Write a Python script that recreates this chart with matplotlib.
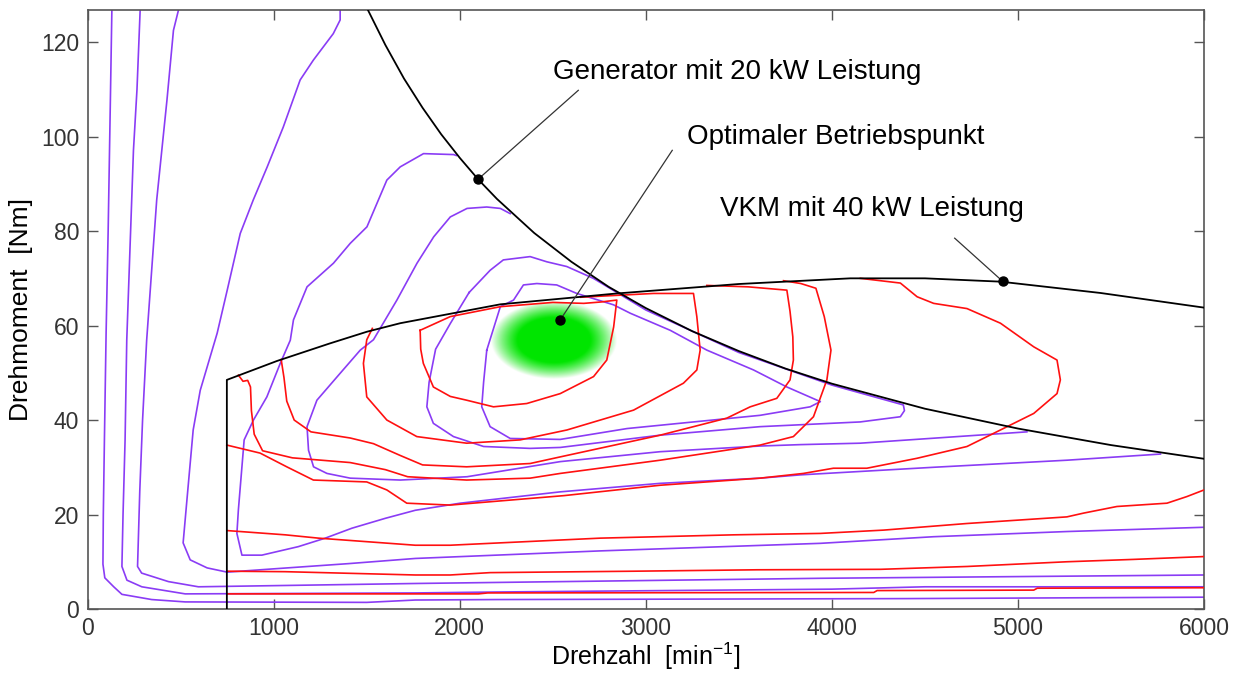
import numpy as np
import matplotlib
matplotlib.use("Agg")
import matplotlib.pyplot as plt

plt.rcParams['font.family'] = ['Liberation Sans', 'DejaVu Sans']
plt.rcParams['mathtext.fontset'] = 'custom'
plt.rcParams['mathtext.rm'] = 'Liberation Sans'
plt.rcParams['mathtext.it'] = 'Liberation Sans:italic'

# --- black boundary curves ---
gen_n = [1500, 1600, 1700, 1800, 1900, 2000, 2100, 2200, 2400, 2600, 2800, 3000,
         3250, 3500, 3750, 4000, 4500, 5000, 5500, 6000]
gen_t = [127.3, 119.4, 112.3, 106.1, 100.5, 95.5, 90.9, 86.8, 79.6, 73.5, 68.2, 63.7,
         58.8, 54.6, 50.9, 47.7, 42.4, 38.2, 34.7, 31.8]

vkm_n = [748, 748, 1017, 1300, 1501, 1680, 2218, 2845, 3500, 4099, 4500, 4906, 5444, 6000]
vkm_t = [0, 48.5, 52.5, 56.2, 58.7, 60.5, 64.5, 66.8, 68.8, 70.0, 70.0, 69.3, 66.9, 63.8]

# --- generator efficiency contours (purple) ---
p1_n = [130, 122, 110, 99, 90, 84, 82, 92, 140, 184, 344, 524, 1500, 1761, 2200, 4400, 6000]
p1_t = [126.8, 107.8, 80, 58.4, 36, 20, 9.5, 6.6, 4.7, 3.1, 2.0, 1.5, 1.4, 1.9, 2.0, 2.2, 2.5]

p2_n = [282, 265, 246, 210, 201, 190, 184, 211, 291, 524, 1761, 2200, 4000, 4500, 6000]
p2_t = [126.8, 110, 97.1, 56.9, 35.8, 20, 9, 6.1, 4.7, 3.2, 3.4, 3.6, 4.2, 4.7, 4.7]

p3_n = [488, 461, 426, 371, 317, 295, 280, 268, 290, 434, 595, 1761, 3938, 6000]
p3_t = [126.8, 122.5, 107.7, 86.6, 56.9, 40, 25, 9, 7.6, 5.8, 4.7, 5.4, 6.5, 7.2]

p4_n = [1357, 1357, 1320, 1213, 1142, 1051, 965, 890, 820, 750, 696, 605, 567, 535, 513,
        551, 642, 750, 1000, 1400, 1761, 2755, 3938, 4546, 5264, 6000]
p4_t = [126.8, 124.7, 121.8, 116.2, 112, 102, 93.6, 86.6, 79.5, 67.5, 58.4, 46.3, 37.9, 23.8, 14,
        10.4, 8.7, 7.8, 8.5, 9.6, 10.7, 12.3, 13.9, 15.3, 16.4, 17.3]

p5_n = [1981, 1967, 1805, 1680, 1608, 1501, 1411, 1321, 1179, 1106, 1089, 1035, 963, 891, 841,
        810, 802, 829, 936, 1132, 1277, 1420, 1600, 1761, 2002, 2540, 3077, 3614, 3833, 4546,
        5264, 5766]
p5_t = [96, 96.2, 96.4, 93.6, 90.8, 80.9, 77.4, 73.2, 68.2, 61.2, 56.9, 52, 44.9, 40, 35.8,
        21, 16, 11.4, 11.4, 13.2, 15, 17.1, 19.2, 20.9, 22.4, 24.8, 26.6, 27.7, 28.4, 30,
        31.5, 32.8]

p6_n = [2271, 2218, 2145, 2039, 1949, 1860, 1770, 1662, 1536, 1465, 1357, 1232, 1179, 1187,
        1214, 1286, 1411, 1680, 2039, 2540, 3077, 3614, 3833, 4152, 5048]
p6_t = [83.7, 84.8, 85.1, 84.8, 83, 78.8, 73.2, 65.4, 57, 54.8, 49.9, 44.2, 38.6, 33.6,
        30.1, 28.7, 27.7, 27.3, 28, 31.2, 33.3, 34.5, 34.8, 35.1, 37.5]

p7_n = [2050, 2163, 2234, 2378, 2468, 2575, 2718, 3000, 3500, 4000, 4384, 4390, 4368, 4152,
        3614, 3077, 2540, 2378, 2128, 1966, 1858, 1823, 1835, 1870, 1950, 2050]
p7_t = [67, 71.7, 73.9, 74.6, 73.5, 72.5, 70.0, 63.3, 54.3, 47.4, 43.2, 42, 40.7, 39.6,
        38.6, 36.8, 34.2, 34.0, 34.4, 36.5, 39.3, 42.8, 48, 55, 60.5, 67]

p8_n = [2145, 2218, 2289, 2342, 2414, 2521, 2629, 2826, 2917, 3131, 3328, 3579, 3758, 3938,
        3883, 3614, 3256, 2899, 2540, 2271, 2163, 2118, 2128, 2145]
p8_t = [54.8, 64, 65.4, 68.6, 68.9, 68.6, 66.8, 64.4, 62.6, 59, 54.8, 50.6, 47, 43.9,
        42.8, 41, 39.6, 38.2, 35.9, 36.1, 38.6, 42.8, 48, 54.8]

# --- engine consumption contours (red) ---
r1_n = [750, 2100, 2150, 4225, 4243, 5085, 5104, 6000]
r1_t = [3.2, 3.2, 3.4, 3.5, 3.9, 4.0, 4.4, 4.5]

r2_n = [750, 1062, 1761, 1948, 2163, 2934, 3597, 4262, 4726, 5263, 5622, 6000]
r2_t = [8.0, 7.9, 7.2, 7.2, 7.7, 8.0, 8.3, 8.4, 9.0, 10.0, 10.5, 11.1]

r3_n = [750, 1062, 1240, 1761, 1948, 2755, 3472, 3938, 4278, 4726, 5263, 5353, 5532, 5801,
        5908, 6000]
r3_t = [16.6, 15.7, 15.0, 13.5, 13.5, 15.0, 15.7, 16.0, 16.7, 18.1, 19.5, 20.3, 21.7, 22.4,
        23.8, 25.2]

r4_n = [748, 927, 1070, 1213, 1500, 1608, 1715, 1948, 2560, 3077, 3614, 3847, 4008, 4188,
        4457, 4726, 4906, 5085, 5210, 5228, 5210, 5085, 4906, 4726, 4547, 4458, 4368, 4153]
r4_t = [34.7, 33, 30.1, 27.3, 26.9, 25.2, 22.4, 22, 24, 26.2, 27.7, 28.7, 29.8, 29.8,
        31.9, 34.4, 37.9, 41.4, 45.6, 48.5, 52.7, 55.5, 60.5, 63.6, 64.7, 66.1, 69, 70]

r5_n = [810, 835, 860, 875, 880, 895, 940, 1100, 1411, 1600, 1720, 2037, 2378, 2540, 3077,
        3614, 3793, 3901, 3973, 3995, 3959, 3914, 3833, 3740]
r5_t = [49.5, 48.2, 48.4, 47, 42, 37, 33.5, 32, 31, 29.5, 28, 27.3, 27.7, 28.7, 31.5,
        34.7, 36.5, 40.7, 48.5, 54.8, 61.9, 67.9, 68.9, 69.5]

r6_n = [1040, 1055, 1070, 1110, 1200, 1411, 1536, 1680, 1800, 2037, 2378, 2540, 3077, 3435,
        3561, 3704, 3775, 3793, 3790, 3775, 3758, 3550, 3328]
r6_t = [52.8, 49, 44, 40, 37.5, 36.2, 35, 32.5, 30.5, 30.1, 30.8, 32.2, 36.8, 40.4,
        42.8, 44.6, 48.5, 52.7, 57.6, 63, 67.5, 68.2, 68.5]

r7_n = [2650, 3041, 3256, 3274, 3292, 3274, 3202, 2934, 2576, 2325, 2037, 1769, 1608, 1500,
        1482, 1500, 1530]
r7_t = [66.0, 66.8, 66.8, 61.9, 54.8, 50.6, 47.8, 42.1, 37.9, 35.8, 35.1, 36.5, 40, 44.9,
        52, 57, 59.4]

r8_n = [1787, 1790, 1804, 1858, 1949, 2037, 2181, 2360, 2540, 2719, 2790, 2827, 2844, 2760,
        2666, 2500, 2218, 1949, 1787]
r8_t = [59, 55, 52, 47, 45, 44.2, 42.8, 43.5, 45.6, 49.2, 52.7, 59.7, 65.4, 65.0,
        64.7, 64.9, 64, 61.9, 59]

purple_lines = [(p1_n, p1_t), (p2_n, p2_t), (p3_n, p3_t), (p4_n, p4_t), (p5_n, p5_t),
                (p6_n, p6_t), (p7_n, p7_t), (p8_n, p8_t)]
red_lines = [(r1_n, r1_t), (r2_n, r2_t), (r3_n, r3_t), (r4_n, r4_t), (r5_n, r5_t),
             (r6_n, r6_t), (r7_n, r7_t), (r8_n, r8_t)]

# annotations: (label, point on curve, line end, text anchor)
labels = ["Generator mit 20 kW Leistung", "Optimaler Betriebspunkt", "VKM mit 40 kW Leistung"]
label_pts = [(2099, 91.0), (2540, 61.2), (4917, 69.4)]
label_ends = [(2637, 109.8), (3142, 97.1), (4660, 78.5)]
label_xy = [(2501, 113.7), (3222, 99.9), (3400, 84.7)]

opt_n, opt_t = 2503, 56.9

PURPLE = '#8a3cf5'
RED = '#ff1010'

fig = plt.figure(figsize=(12.42, 6.73), dpi=100)
ax = fig.add_axes([0.0706, 0.0951, 0.8988, 0.8900])

# green optimum blob
bx = np.linspace(opt_n - 450, opt_n + 450, 240)
by = np.linspace(opt_t - 11, opt_t + 11, 240)
BX, BY = np.meshgrid(bx, by)
r = np.sqrt(((BX - opt_n) / 340.0) ** 2 + ((BY - opt_t) / 8.3) ** 2)
alpha = np.clip(1.5 * (1 - r ** 2), 0, 1)
img = np.zeros(BX.shape + (4,))
img[..., 1] = 0.9
img[..., 3] = alpha
ax.imshow(img, extent=[bx[0], bx[-1], by[0], by[-1]], origin='lower', aspect='auto',
          interpolation='bilinear', zorder=1)

for n, t in purple_lines:
    ax.plot(n, t, color=PURPLE, lw=1.2, zorder=2)
for n, t in red_lines:
    ax.plot(n, t, color=RED, lw=1.2, zorder=3)

ax.plot(gen_n, gen_t, color='black', lw=1.3, zorder=4)
ax.plot(vkm_n, vkm_t, color='black', lw=1.3, zorder=4)

for txt, p, e, xy in zip(labels, label_pts, label_ends, label_xy):
    ax.plot([p[0], e[0]], [p[1], e[1]], color='#333333', lw=0.9, zorder=5)
    ax.plot(p[0], p[1], 'o', color='black', ms=6.5, zorder=6)
    ax.text(xy[0], xy[1], txt, fontsize=20, va='center', ha='left', color='black', zorder=6)

ax.set_xlim(0, 6000)
ax.set_ylim(0, 126.8)
ax.set_xticks(range(0, 6001, 1000))
ax.set_yticks(range(0, 121, 20))
ax.tick_params(direction='in', length=7.5, width=1, top=True, right=True,
               labelsize=16.5, labelcolor='#333333', color='#555555', pad=6)
for s in ax.spines.values():
    s.set_color('#555555')
    s.set_linewidth(1.2)

ax.set_xlabel(r'Drehzahl  [min$^{-1}$]', fontsize=18)
ax.xaxis.set_label_coords(0.5, -0.052)
ax.set_ylabel('Drehmoment  [Nm]', fontsize=19, labelpad=6)

fig.savefig('out.png', dpi=100)
